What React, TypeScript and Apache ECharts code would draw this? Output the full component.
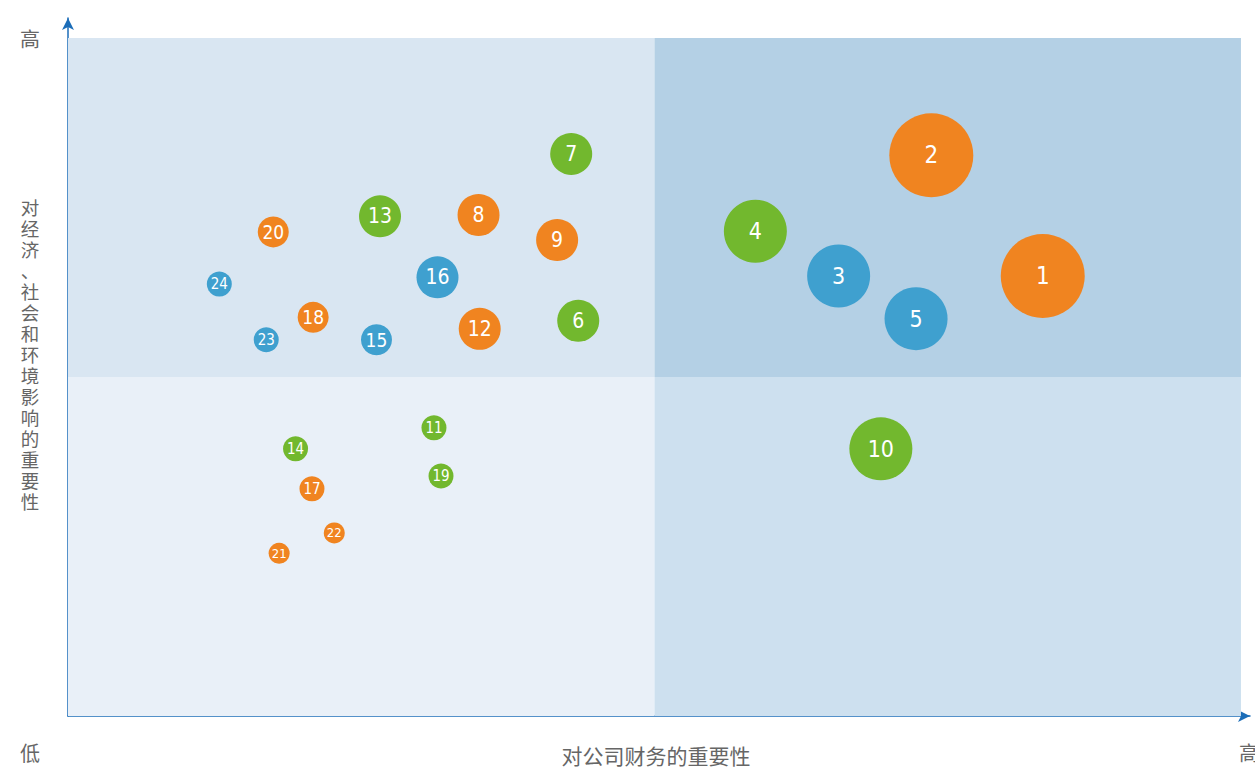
import React, { useEffect, useRef } from "react";
import * as echarts from "echarts";

const ids = [1, 2, 3, 4, 5, 6, 7, 8, 9, 10, 11, 12, 13, 14, 15, 16, 17, 18, 19, 20, 21, 22, 23, 24];
const financial = [83.1, 73.6, 65.7, 58.6, 72.3, 43.5, 42.9, 35.0, 41.7, 69.3, 31.2, 35.1, 26.6, 19.4, 26.3, 31.5, 20.8, 20.9, 31.8, 17.5, 18.0, 22.7, 16.9, 12.9];
const impact = [64.9, 82.7, 64.9, 71.5, 58.6, 58.3, 82.9, 73.9, 70.2, 39.4, 42.5, 57.1, 73.7, 39.4, 55.5, 64.7, 33.5, 58.8, 35.4, 71.4, 24.0, 27.0, 55.5, 63.7];
const weight = [6, 6, 5, 5, 5, 4, 4, 4, 4, 5, 2, 4, 4, 2, 3, 4, 2, 3, 2, 3, 1, 1, 2, 2];
const group = ["o", "o", "b", "g", "b", "g", "g", "o", "o", "g", "g", "o", "g", "g", "b", "b", "o", "o", "g", "o", "o", "o", "b", "b"];

const xTitle = "对公司财务的重要性";
const yTitle = "对经济、社会和环境影响的重要性";

const colors: Record<string, string> = { o: "#f08420", g: "#72b82e", b: "#3fa0cf" };
const sizeByWeight: Record<number, number> = { 1: 21, 2: 25, 3: 31, 4: 42, 5: 63, 6: 84 };
const fontByWeight: Record<number, number> = { 1: 13, 2: 15, 3: 19, 4: 21, 5: 23, 6: 24 };

export default function App() {
  const ref = useRef<HTMLDivElement>(null);
  useEffect(() => {
    const chart = echarts.init(ref.current!, null, { renderer: "svg" });
    const data = ids.map((id, i) => ({
      value: [financial[i], impact[i]],
      name: String(id),
      symbolSize: sizeByWeight[weight[i]],
      itemStyle: { color: colors[group[i]], opacity: 1 },
      label: { fontSize: fontByWeight[weight[i]] },
    }));
    const font = "'Noto Sans CJK SC', sans-serif";
    const yFont = "'Liberation Sans', 'Noto Sans CJK SC', sans-serif";
    const yChars = yTitle.split("").map((ch, i) => ({
      type: "text",
      x: 30,
      y: 208 + i * 21,
      style: { text: ch, fontSize: 18.5, fill: "#666", align: "center", verticalAlign: "middle", fontFamily: yFont },
    }));
    chart.setOption({
      animation: false,
      grid: { left: 68, right: 5, top: 18, bottom: 55 },
      xAxis: {
        type: "value",
        min: 0,
        max: 100.77,
        axisLine: { show: true, symbol: ["none", "arrow"], symbolSize: [9, 12], lineStyle: { color: "#1b6db8", width: 1.5 } },
        axisTick: { show: false },
        axisLabel: { show: false },
        splitLine: { show: false },
      },
      yAxis: {
        type: "value",
        min: 0,
        max: 102.95,
        axisLine: { show: true, symbol: ["none", "arrow"], symbolSize: [9, 12], lineStyle: { color: "#1b6db8", width: 1.5 } },
        axisTick: { show: false },
        axisLabel: { show: false },
        splitLine: { show: false },
      },
      series: [
        {
          type: "scatter",
          data: [],
          silent: true,
          markArea: {
            silent: true,
            data: [
              [{ coord: [0, 50], itemStyle: { color: "#d9e6f2", opacity: 1 } }, { coord: [50, 100] }],
              [{ coord: [50, 50], itemStyle: { color: "#b4d0e5", opacity: 1 } }, { coord: [100, 100] }],
              [{ coord: [0, 0], itemStyle: { color: "#e9f0f8", opacity: 1 } }, { coord: [50, 50] }],
              [{ coord: [50, 0], itemStyle: { color: "#cde0ef", opacity: 1 } }, { coord: [100, 50] }],
            ],
          },
        },
        {
          type: "scatter",
          data,
          z: 5,
          itemStyle: { opacity: 1 },
          label: {
            show: true,
            position: "inside",
            formatter: "{b}",
            color: "#ffffff",
            fontFamily: "'Liberation Sans Narrow', 'DejaVu Sans Condensed', 'Roboto', sans-serif",
          },
        },
      ],
      graphic: [
        { type: "text", left: 20, top: 28, style: { text: "高", fontSize: 20, fill: "#666", fontFamily: font } },
        { type: "text", left: 20, top: 742, style: { text: "低", fontSize: 20, fill: "#666", fontFamily: font } },
        { type: "text", left: 1239, top: 742, style: { text: "高", fontSize: 20, fill: "#666", fontFamily: font } },
        { type: "text", x: 656, y: 755, style: { text: xTitle, fontSize: 21, fill: "#666", align: "center", verticalAlign: "middle", fontFamily: font } },
        ...yChars,
      ],
    });
    return () => chart.dispose();
  }, []);
  return <div ref={ref} style={{ position: "absolute", left: 0, top: 0, width: 1255, height: 771 }} />;
}
